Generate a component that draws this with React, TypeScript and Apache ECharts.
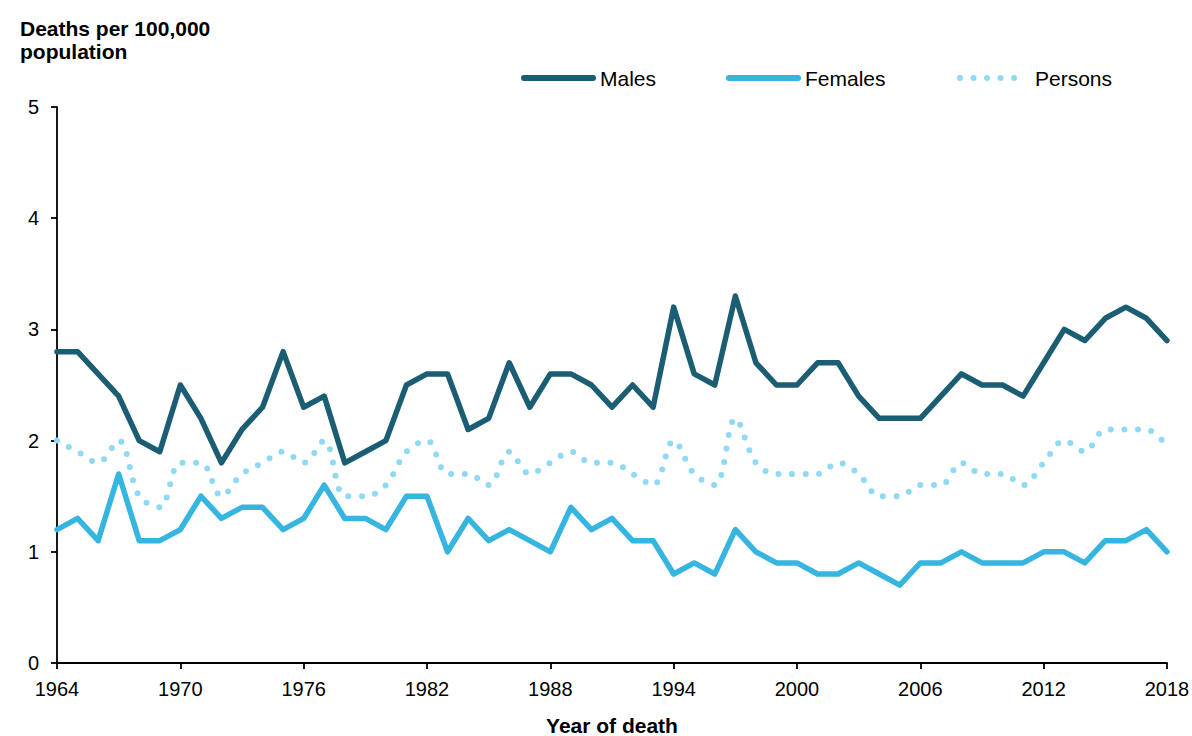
import React, { useEffect, useRef } from 'react';
import * as echarts from 'echarts';

const years: string[] = [];
for (let y = 1964; y <= 2018; y++) years.push(String(y));

// 1964 - 2018
const males = [
  2.8, 2.8, 2.6, 2.4, 2.0, 1.9, 2.5, 2.2, 1.8, 2.1,
  2.3, 2.8, 2.3, 2.4, 1.8, 1.9, 2.0, 2.5, 2.6, 2.6,
  2.1, 2.2, 2.7, 2.3, 2.6, 2.6, 2.5, 2.3, 2.5, 2.3,
  3.2, 2.6, 2.5, 3.3, 2.7, 2.5, 2.5, 2.7, 2.7, 2.4,
  2.2, 2.2, 2.2, 2.4, 2.6, 2.5, 2.5, 2.4, 2.7, 3.0,
  2.9, 3.1, 3.2, 3.1, 2.9,
];

const females = [
  1.2, 1.3, 1.1, 1.7, 1.1, 1.1, 1.2, 1.5, 1.3, 1.4,
  1.4, 1.2, 1.3, 1.6, 1.3, 1.3, 1.2, 1.5, 1.5, 1.0,
  1.3, 1.1, 1.2, 1.1, 1.0, 1.4, 1.2, 1.3, 1.1, 1.1,
  0.8, 0.9, 0.8, 1.2, 1.0, 0.9, 0.9, 0.8, 0.8, 0.9,
  0.8, 0.7, 0.9, 0.9, 1.0, 0.9, 0.9, 0.9, 1.0, 1.0,
  0.9, 1.1, 1.1, 1.2, 1.0,
];

const persons = [
  2.0, 1.9, 1.8, 2.0, 1.5, 1.4, 1.8, 1.8, 1.5, 1.7,
  1.8, 1.9, 1.8, 2.0, 1.5, 1.5, 1.6, 1.9, 2.0, 1.7,
  1.7, 1.6, 1.9, 1.7, 1.8, 1.9, 1.8, 1.8, 1.7, 1.6,
  2.0, 1.7, 1.6, 2.2, 1.8, 1.7, 1.7, 1.7, 1.8, 1.7,
  1.5, 1.5, 1.6, 1.6, 1.8, 1.7, 1.7, 1.6, 1.8, 2.0,
  1.9, 2.1, 2.1, 2.1, 1.95,
];

const FONT = 'Liberation Sans, Arial, sans-serif';
const C_MALES = '#1b5d72';
const C_FEMALES = '#35b5df';
const C_PERSONS = '#90d9f3';

const App: React.FC = () => {
  const chartRef = useRef<HTMLDivElement>(null);

  useEffect(() => {
    if (!chartRef.current) return;
    const chart = echarts.init(chartRef.current, null, { renderer: 'svg' });

    // legend drawn by hand so the line samples match the original
    const legendItem = (name: string, color: string, x1: number, x2: number, tx: number, dotted = false) => ({
      type: 'group',
      children: [
        {
          type: 'line',
          shape: { x1, y1: 78, x2, y2: 78 },
          style: dotted
            ? { stroke: color, lineWidth: 6, lineCap: 'round', lineDash: [0, 13.5] }
            : { stroke: color, lineWidth: 6, lineCap: 'round' },
        },
        {
          type: 'text',
          x: tx,
          y: 78,
          style: { text: name, font: `21px ${FONT}`, fill: '#000', verticalAlign: 'middle' },
        },
      ],
    });

    const option = {
      animation: false,
      title: {
        text: 'Deaths per 100,000\npopulation',
        left: 20,
        top: 17,
        padding: 0,
        textStyle: {
          fontFamily: FONT,
          fontSize: 21,
          fontWeight: 'bold',
          color: '#000',
          lineHeight: 23,
        },
      },
      graphic: [
        legendItem('Males', C_MALES, 524, 593, 600),
        legendItem('Females', C_FEMALES, 729, 798, 805),
        legendItem('Persons', C_PERSONS, 960, 1015, 1035, true),
      ],
      grid: { left: 57, right: 25, top: 107, bottom: 73, outerBoundsMode: 'none' },
      xAxis: {
        type: 'category',
        data: years,
        boundaryGap: false,
        name: 'Year of death',
        nameLocation: 'middle',
        nameGap: 52,
        nameTextStyle: { fontFamily: FONT, fontSize: 21, fontWeight: 'bold', color: '#000' },
        axisLine: { lineStyle: { color: '#000', width: 1.8 } },
        axisTick: { interval: 5, length: 6, lineStyle: { color: '#000', width: 1.8 } },
        axisLabel: { interval: 5, fontFamily: FONT, fontSize: 20, color: '#000', margin: 16 },
        splitLine: { show: false },
      },
      yAxis: {
        type: 'value',
        min: 0,
        max: 5,
        interval: 1,
        axisLine: { show: true, lineStyle: { color: '#000', width: 1.8 } },
        axisTick: { show: true, length: 6, lineStyle: { color: '#000', width: 1.8 } },
        axisLabel: { fontFamily: FONT, fontSize: 20, color: '#000', margin: 18 },
        splitLine: { show: false },
      },
      series: [
        {
          name: 'Males',
          type: 'line',
          data: males,
          symbol: 'none',
          lineStyle: { color: C_MALES, width: 5.5, cap: 'round', join: 'round' },
          itemStyle: { color: C_MALES },
        },
        {
          name: 'Females',
          type: 'line',
          data: females,
          symbol: 'none',
          lineStyle: { color: C_FEMALES, width: 5.5, cap: 'round', join: 'round' },
          itemStyle: { color: C_FEMALES },
        },
        {
          name: 'Persons',
          type: 'line',
          data: persons,
          symbol: 'none',
          smooth: 0.35,
          lineStyle: { color: C_PERSONS, width: 6, type: [0, 13.5], cap: 'round' },
          itemStyle: { color: C_PERSONS },
        },
      ],
    };

    chart.setOption(option);
    return () => chart.dispose();
  }, []);

  return (
    <div
      ref={chartRef}
      style={{ position: 'absolute', left: 0, top: 0, width: 1192, height: 736, background: '#fff' }}
    />
  );
};

export default App;
